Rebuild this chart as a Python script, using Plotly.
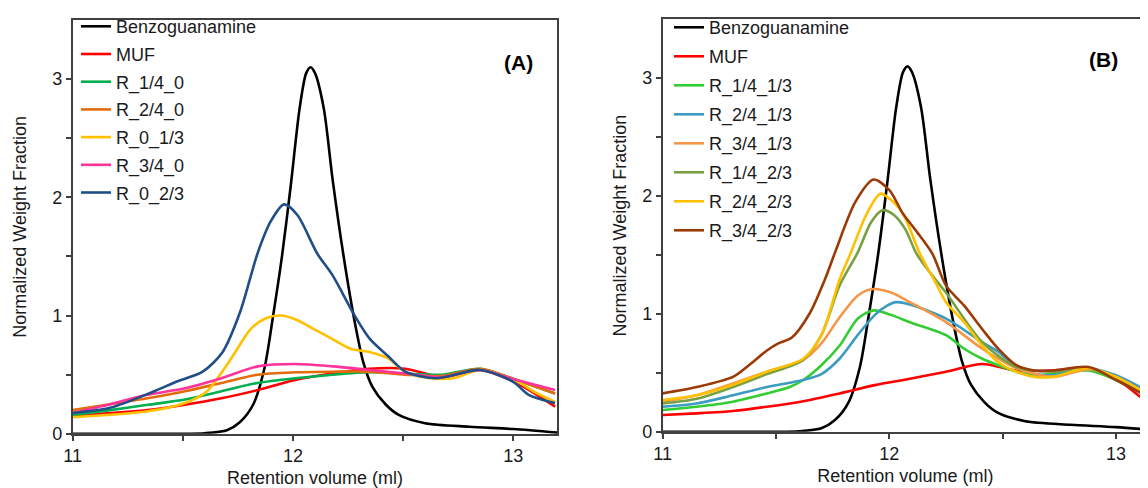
import plotly.graph_objects as go

# ---------------- Data ----------------
# Benzoguanamine reference peak (same in both panels)
benzo_x = [11.0, 11.3, 11.6, 11.7, 11.76, 11.82, 11.87, 11.91, 11.95, 11.99, 12.03, 12.06, 12.08,
           12.1, 12.14, 12.18, 12.23, 12.28, 12.32, 12.36, 12.42, 12.48, 12.6, 12.8, 13.0, 13.2]
benzo_y = [0.0, 0.0, 0.005, 0.03, 0.1, 0.25, 0.55, 1.0, 1.5, 2.1, 2.75, 3.05, 3.1,
           3.05, 2.75, 2.15, 1.5, 0.95, 0.6, 0.4, 0.25, 0.16, 0.09, 0.06, 0.04, 0.01]

# Panel A
a_x = [11.0, 11.17, 11.34, 11.51, 11.675, 11.84, 12.01, 12.18, 12.345, 12.51, 12.68, 12.85, 13.015, 13.19]
muf_a = [0.15, 0.175, 0.2, 0.245, 0.3, 0.37, 0.455, 0.51, 0.55, 0.55, 0.48, 0.54, 0.43, 0.23]
r14_0 = [0.16, 0.2, 0.245, 0.29, 0.36, 0.43, 0.47, 0.5, 0.52, 0.51, 0.5, 0.55, 0.455, 0.34]
r24_0 = [0.2, 0.25, 0.3, 0.36, 0.43, 0.5, 0.52, 0.525, 0.525, 0.5, 0.49, 0.55, 0.455, 0.34]
r3_0 = [0.176, 0.25, 0.33, 0.385, 0.47, 0.57, 0.59, 0.57, 0.54, 0.51, 0.48, 0.54, 0.455, 0.37]

r0_13_x = [11.0, 11.34, 11.51, 11.61, 11.71, 11.81, 11.88, 11.95, 12.02, 12.09, 12.18, 12.26, 12.35,
           12.43, 12.51, 12.63, 12.73, 12.85, 13.02, 13.1, 13.19]
r0_13 = [0.14, 0.19, 0.26, 0.36, 0.61, 0.89, 0.98, 1.0, 0.96, 0.89, 0.8, 0.72, 0.69,
         0.64, 0.525, 0.47, 0.47, 0.54, 0.44, 0.35, 0.27]

r0_23_x = [11.0, 11.17, 11.37, 11.47, 11.59, 11.68, 11.76, 11.84, 11.9, 11.96, 12.02, 12.11,
           12.18, 12.28, 12.35, 12.43, 12.51, 12.65, 12.85, 13.0, 13.07, 13.19]
r0_23 = [0.176, 0.22, 0.36, 0.44, 0.525, 0.69, 1.03, 1.53, 1.8, 1.94, 1.85, 1.525,
         1.34, 1.0, 0.8, 0.66, 0.525, 0.47, 0.54, 0.44, 0.33, 0.26]

# Panel B
b_x = [11.0, 11.15, 11.31, 11.46, 11.62, 11.78, 11.935, 12.09, 12.25, 12.41, 12.56, 12.72, 12.88, 13.0, 13.13]
muf_b = [0.143, 0.157, 0.177, 0.213, 0.26, 0.326, 0.396, 0.45, 0.51, 0.575, 0.52, 0.52, 0.54, 0.45, 0.26]

r14_13_x = [11.0, 11.15, 11.31, 11.46, 11.56, 11.62, 11.7, 11.78, 11.86, 11.93, 12.01, 12.09,
            12.25, 12.33, 12.41, 12.48, 12.56, 12.64, 12.72, 12.88, 13.0, 13.13]
r14_13 = [0.185, 0.213, 0.256, 0.326, 0.38, 0.44, 0.565, 0.73, 0.96, 1.03, 0.99, 0.93,
          0.82, 0.705, 0.62, 0.565, 0.51, 0.48, 0.494, 0.52, 0.44, 0.31]

r24_13_x = [11.0, 11.15, 11.31, 11.46, 11.62, 11.7, 11.78, 11.86, 11.935, 11.99, 12.03, 12.09,
            12.25, 12.41, 12.48, 12.56, 12.64, 12.72, 12.88, 13.0, 13.13]
r24_13 = [0.213, 0.24, 0.31, 0.38, 0.44, 0.49, 0.62, 0.82, 0.99, 1.07, 1.1, 1.08,
          0.96, 0.76, 0.68, 0.55, 0.49, 0.48, 0.54, 0.48, 0.354]

r34_13_x = [11.0, 11.15, 11.31, 11.46, 11.62, 11.7, 11.78, 11.86, 11.92, 12.01, 12.09, 12.25,
            12.41, 12.56, 12.72, 12.88, 13.0, 13.13]
r34_13 = [0.256, 0.31, 0.41, 0.51, 0.61, 0.75, 0.97, 1.155, 1.21, 1.18, 1.1, 0.93,
          0.705, 0.54, 0.466, 0.53, 0.466, 0.33]

r14_23_x = [11.0, 11.15, 11.31, 11.46, 11.62, 11.7, 11.78, 11.86, 11.92, 11.97, 12.02, 12.07,
            12.12, 12.2, 12.25, 12.41, 12.56, 12.72, 12.88, 13.0, 13.13]
r14_23 = [0.24, 0.28, 0.38, 0.49, 0.61, 0.82, 1.24, 1.52, 1.78, 1.88, 1.84, 1.72,
          1.51, 1.3, 1.18, 0.76, 0.55, 0.51, 0.54, 0.45, 0.31]

r24_23_x = [11.0, 11.15, 11.31, 11.46, 11.62, 11.7, 11.78, 11.83, 11.9, 11.96, 12.0, 12.06,
            12.135, 12.2, 12.25, 12.33, 12.41, 12.48, 12.56, 12.64, 12.72, 12.88, 13.0, 13.13]
r24_23 = [0.27, 0.31, 0.4, 0.51, 0.62, 0.82, 1.29, 1.52, 1.85, 2.02, 1.98, 1.85,
          1.51, 1.28, 1.1, 0.93, 0.73, 0.59, 0.51, 0.466, 0.466, 0.54, 0.466, 0.33]

r34_23_x = [11.0, 11.15, 11.31, 11.38, 11.46, 11.51, 11.57, 11.65, 11.715, 11.76, 11.85, 11.93,
            12.0, 12.06, 12.12, 12.19, 12.25, 12.33, 12.41, 12.48, 12.56, 12.64, 12.72, 12.88, 13.0, 13.13]
r34_23 = [0.326, 0.38, 0.466, 0.565, 0.69, 0.75, 0.8, 1.01, 1.29, 1.52, 1.95, 2.14,
          2.05, 1.85, 1.7, 1.51, 1.24, 1.07, 0.87, 0.705, 0.565, 0.52, 0.52, 0.55, 0.44, 0.31]

x_ticks = [11, 11.5, 12, 12.5, 13]
x_ticktext = ["11", "", "12", "", "13"]
y_ticks = [0, 0.5, 1, 1.5, 2, 2.5, 3]
y_ticktext = ["0", "", "1", "", "2", "", "3"]

# ---------------- Figure ----------------
FONT = "Liberation Sans, Arial, sans-serif"
OFF = 8            # page body margin of the html page
W = 1148 - OFF
H = 488 - OFF


def px(p):
    return (p - OFF) / W


def py(p):
    return 1 - (p - OFF) / H


fig = go.Figure()

panel_a = [
    ("Benzoguanamine", benzo_x, benzo_y, "#000000"),
    ("MUF", a_x, muf_a, "#FF0000"),
    ("R_1/4_0", a_x, r14_0, "#00B050"),
    ("R_2/4_0", a_x, r24_0, "#E46C0A"),
    ("R_0_1/3", r0_13_x, r0_13, "#FFC000"),
    ("R_3/4_0", a_x, r3_0, "#FF3399"),
    ("R_0_2/3", r0_23_x, r0_23, "#1F4E89"),
]
panel_b = [
    ("Benzoguanamine", benzo_x, benzo_y, "#000000"),
    ("MUF", b_x, muf_b, "#FF0000"),
    ("R_1/4_1/3", r14_13_x, r14_13, "#33CC33"),
    ("R_2/4_1/3", r24_13_x, r24_13, "#3A9CC0"),
    ("R_3/4_1/3", r34_13_x, r34_13, "#F79646"),
    ("R_1/4_2/3", r14_23_x, r14_23, "#77A043"),
    ("R_2/4_2/3", r24_23_x, r24_23, "#FFC000"),
    ("R_3/4_2/3", r34_23_x, r34_23, "#9C3A06"),
]

for i, (name, xs, ys, col) in enumerate(panel_a):
    fig.add_trace(go.Scatter(
        x=xs, y=ys, name=name, mode="lines",
        line=dict(color=col, width=2.6, shape="spline", smoothing=0.8),
        xaxis="x", yaxis="y", legend="legend", legendgroup="a%d" % i,
    ))
for i, (name, xs, ys, col) in enumerate(panel_b):
    fig.add_trace(go.Scatter(
        x=xs, y=ys, name=name, mode="lines",
        line=dict(color=col, width=2.6, shape="spline", smoothing=0.8),
        xaxis="x2", yaxis="y2", legend="legend2", legendgroup="b%d" % i,
    ))

AX_COL = "#404040"
TXT = "#1a1a1a"
common_x = dict(
    tickmode="array", tickvals=x_ticks, ticktext=x_ticktext,
    ticks="outside", ticklen=5, tickwidth=1.5, tickcolor=AX_COL,
    showline=True, linecolor=AX_COL, linewidth=1.8,
    showgrid=False, zeroline=False,
    tickfont=dict(family=FONT, size=18, color=TXT),
    title=dict(text="Retention volume (ml)", font=dict(family=FONT, size=18, color=TXT), standoff=6),
    automargin=False,
)
common_y = dict(
    tickmode="array", tickvals=y_ticks, ticktext=y_ticktext,
    ticks="outside", ticklen=5, tickwidth=1.5, tickcolor=AX_COL,
    showline=True, linecolor=AX_COL, linewidth=1.8,
    showgrid=False, zeroline=False, range=[0, 3.5],
    tickfont=dict(family=FONT, size=18, color=TXT),
    automargin=False,
)

fig.update_layout(
    width=W, height=H,
    margin=dict(l=0, r=0, t=0, b=0),
    paper_bgcolor="white", plot_bgcolor="white",
    font=dict(family=FONT, size=18, color=TXT),
    xaxis=dict(common_x, domain=[px(72.7), px(557.3)], range=[11, 13.2], anchor="y", mirror=True),
    yaxis=dict(common_y, domain=[py(433), py(13)], anchor="x", mirror=True,
               title=dict(text="Normalized Weight Fraction", font=dict(family=FONT, size=18, color=TXT), standoff=21)),
    xaxis2=dict(common_x, domain=[px(662.7), 1.0], range=[11, 13.141], anchor="y2", mirror=True),
    yaxis2=dict(common_y, domain=[py(431), py(12.3)], anchor="x2",
                title=dict(text="Normalized Weight Fraction", font=dict(family=FONT, size=18, color=TXT), standoff=11)),
    legend=dict(x=px(76), y=py(1), xanchor="left", yanchor="top",
                bgcolor="rgba(0,0,0,0)", font=dict(family=FONT, size=18, color=TXT),
                tracegroupgap=1.3, traceorder="grouped"),
    legend2=dict(x=px(669), y=py(2), xanchor="left", yanchor="top",
                 bgcolor="rgba(0,0,0,0)", font=dict(family=FONT, size=18, color=TXT),
                 tracegroupgap=2.6, traceorder="grouped"),
    annotations=[
        dict(text="<b>(A)</b>", x=px(518.5), y=py(42.5), xref="paper", yref="paper",
             showarrow=False, font=dict(family=FONT, size=21, color="#000000")),
        dict(text="<b>(B)</b>", x=px(1120), y=py(39), xref="paper", yref="paper",
             showarrow=False, font=dict(family=FONT, size=21, color="#000000")),
    ],
    showlegend=True,
)

fig.write_html("out.html")
